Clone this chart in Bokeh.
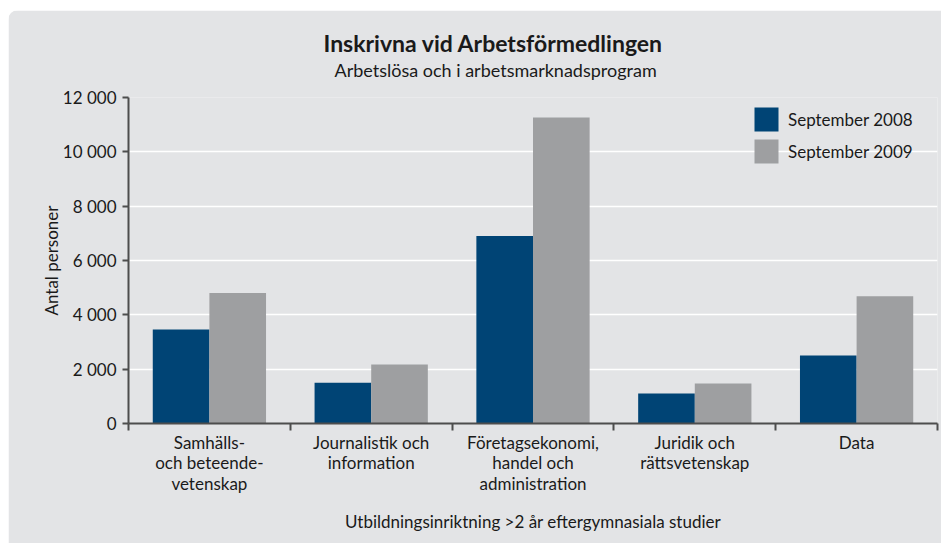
from bokeh.plotting import figure
from bokeh.models import FixedTicker, Legend, LegendItem, Range1d, ColumnDataSource, Title
from bokeh.embed import file_html
from bokeh.resources import INLINE

# ---- data ----
categories = [
    "Samhälls-\noch beteende-\nvetenskap",
    "Journalistik och\ninformation",
    "Företagsekonomi,\nhandel och\nadministration",
    "Juridik och\nrättsvetenskap",
    "Data",
]
sep_2008 = [3460, 1500, 6900, 1100, 2500]
sep_2009 = [4800, 2170, 11260, 1470, 4680]
series_names = ["September 2008", "September 2009"]
y_ticks = [0, 2000, 4000, 6000, 8000, 10000, 12000]
y_tick_labels = ["0", "2 000", "4 000", "6 000", "8 000", "10 000", "12 000"]

title_text = "Inskrivna vid Arbetsförmedlingen"
subtitle_text = "Arbetslösa och i arbetsmarknadsprogram"
x_title = "Utbildningsinriktning >2 år eftergymnasiala studier"
y_title = "Antal personer"

# ---- style ----
FONT = "Lato"
BG = "#e3e4e6"
NAVY = "#004475"
GRAY = "#9e9fa1"
AXIS = "#4d4d4d"
TXT = "#1a1a1a"
BAR_W = 0.35
FS = "17px"

n = len(categories)
centers = [i + 0.5 for i in range(n)]
src = ColumnDataSource(dict(
    x1=[c - BAR_W / 2 for c in centers],
    x2=[c + BAR_W / 2 for c in centers],
    v1=sep_2008,
    v2=sep_2009,
))

p = figure(width=933, height=533, output_backend="svg", toolbar_location=None,
           x_range=Range1d(0, n), y_range=Range1d(0, 12000),
           min_border_left=120, min_border_right=4, min_border_top=87, min_border_bottom=120)
p.styles = {"margin-left": "8px", "margin-top": "10px",
            "border-top-left-radius": "10px", "overflow": "hidden"}
p.background_fill_color = BG
p.border_fill_color = BG
p.outline_line_color = None
p.title.visible = False

r1 = p.vbar(x="x1", top="v1", width=BAR_W, source=src, fill_color=NAVY, line_color=None)
r2 = p.vbar(x="x2", top="v2", width=BAR_W, source=src, fill_color=GRAY, line_color=None)

# axes
xa = p.xaxis[0]
xa.ticker = FixedTicker(ticks=centers, minor_ticks=list(range(n + 1)))
xa.major_label_overrides = {c: lab for c, lab in zip(centers, categories)}
xa.major_tick_line_color = None
xa.major_tick_out = 0
xa.major_tick_in = 0
xa.minor_tick_out = 7
xa.minor_tick_in = 0
xa.minor_tick_line_color = AXIS
xa.minor_tick_line_width = 2
xa.axis_line_color = AXIS
xa.axis_line_width = 2
xa.major_label_text_font = FONT
xa.major_label_text_font_size = FS
xa.major_label_text_color = TXT
xa.major_label_text_line_height = 0.98
xa.major_label_standoff = 1
xa.axis_label = x_title
xa.axis_label_text_font = FONT
xa.axis_label_text_font_size = FS
xa.axis_label_text_font_style = "normal"
xa.axis_label_text_color = TXT
xa.axis_label_standoff = 14

ya = p.yaxis[0]
ya.ticker = FixedTicker(ticks=y_ticks)
ya.major_label_overrides = {t: lab for t, lab in zip(y_ticks, y_tick_labels)}
ya.minor_tick_line_color = None
ya.major_tick_out = 6
ya.major_tick_in = 0
ya.major_tick_line_color = AXIS
ya.major_tick_line_width = 2
ya.axis_line_color = AXIS
ya.axis_line_width = 2
ya.major_label_text_font = FONT
ya.major_label_text_font_size = FS
ya.major_label_text_color = TXT
ya.major_label_standoff = 6
ya.axis_label = y_title
ya.axis_label_text_font = FONT
ya.axis_label_text_font_size = FS
ya.axis_label_text_font_style = "normal"
ya.axis_label_text_color = TXT
ya.axis_label_standoff = -2

p.xgrid.visible = False
p.ygrid.ticker = FixedTicker(ticks=y_ticks)
p.ygrid.grid_line_color = "white"
p.ygrid.grid_line_width = 1.5

# titles (first added sits closest to the frame); a blank spacer lifts them
p.add_layout(Title(text=" ", standoff=14, text_font_size="1px"), "above")
p.add_layout(Title(text=subtitle_text, align="left", offset=206, standoff=0,
                   text_font=FONT, text_font_size="18px", text_font_style="normal",
                   text_color=TXT), "above")
p.add_layout(Title(text=title_text, align="left", offset=195, standoff=0,
                   text_font=FONT, text_font_size="23px", text_font_style="bold",
                   text_color=TXT), "above")

legend = Legend(items=[LegendItem(label=series_names[0], renderers=[r1]),
                       LegendItem(label=series_names[1], renderers=[r2])],
                location=(623, 257), orientation="vertical",
                background_fill_alpha=0, border_line_color=None,
                padding=0, margin=0, spacing=2,
                glyph_width=30, glyph_height=30, label_standoff=7,
                label_text_font=FONT, label_text_font_size=FS, label_text_color=TXT)
p.add_layout(legend)

open("out.html", "w").write(file_html(p, INLINE))
